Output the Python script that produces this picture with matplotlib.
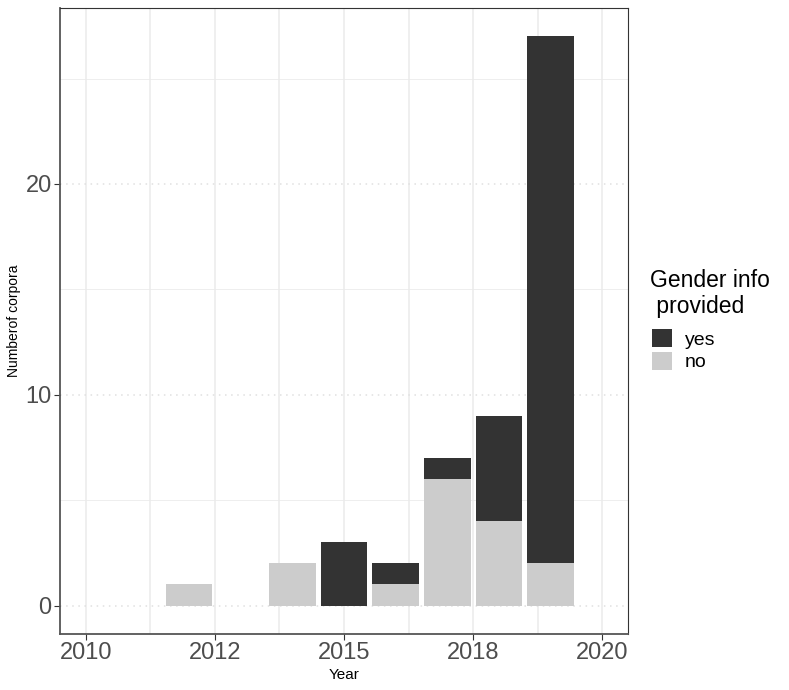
import matplotlib
matplotlib.use("Agg")
from matplotlib import pyplot as plt
from matplotlib.patches import Patch
import numpy as np

plt.rcParams['font.family'] = ['Liberation Sans', 'DejaVu Sans']

years = [2012, 2014, 2015, 2016, 2017, 2018, 2019]
n_no = [1, 2, 0, 1, 6, 4, 2]
n_yes = [0, 0, 3, 1, 1, 5, 25]

x_ticks = [2010, 2012.5, 2015, 2017.5, 2020]
x_labels = ["2010", "2012", "2015", "2018", "2020"]
y_ticks = [0, 10, 20]

col_yes = "#333333"
col_no = "#CCCCCC"

fig = plt.figure(figsize=(7.89, 6.9), dpi=100)
ax = fig.add_axes([60/789, 1-634/690, (628-60)/789, (634-8)/690])

no = np.array(n_no)
yes = np.array(n_yes)
ax.bar(years, no, width=0.9, color=col_no, zorder=3)
ax.bar(years, yes, width=0.9, bottom=no, color=col_yes, zorder=3)

ax.set_xlim(2009.5, 2020.5)
ax.set_ylim(-1.35, 28.35)

ax.set_xticks(x_ticks)
ax.set_xticklabels(x_labels)
ax.set_xticks([2011.25, 2013.75, 2016.25, 2018.75], minor=True)
ax.set_yticks(y_ticks)
ax.set_yticks([5, 15, 25], minor=True)

ax.grid(axis='x', which='both', color='#EBEBEB', linewidth=1.1, zorder=0)
ax.grid(axis='y', which='minor', color='#EBEBEB', linewidth=0.6, zorder=0)
ax.grid(axis='y', which='major', color='#E0E0E0', linewidth=1.1, linestyle=(0, (1, 3)), zorder=0)

ax.tick_params(which='major', length=4, width=0.8, color='#333333',
               labelsize=17, labelcolor='#4D4D4D', pad=2)
ax.tick_params(which='minor', length=0)

for s in ['top', 'right']:
    ax.spines[s].set_color('#333333')
    ax.spines[s].set_linewidth(0.8)
for s in ['left', 'bottom']:
    ax.spines[s].set_color('#555555')
    ax.spines[s].set_linewidth(1.3)

fig.text((60+628)/2/789, 1-675/690, "Year", ha='center', va='center', fontsize=11)
fig.text(14/789, 1-321/690, "Numberof corpora", ha='center', va='center',
         rotation=90, fontsize=10)

# legend title drawn separately so the gap to the keys can be set
fig.text(650/789, 1-269/690, "Gender info\n provided", ha='left', va='top',
         fontsize=16.5, linespacing=1.15)

handles = [Patch(facecolor=col_yes, edgecolor='none', label='yes'),
           Patch(facecolor=col_no, edgecolor='none', label='no')]
leg = fig.legend(handles=handles, loc='upper left',
                 bbox_to_anchor=(652/789, 1-329/690),
                 frameon=False, fontsize=14, borderpad=0, borderaxespad=0,
                 handlelength=1.05, handleheight=1.05, handletextpad=0.65,
                 labelspacing=0.15)

fig.savefig("out.png", dpi=100)
